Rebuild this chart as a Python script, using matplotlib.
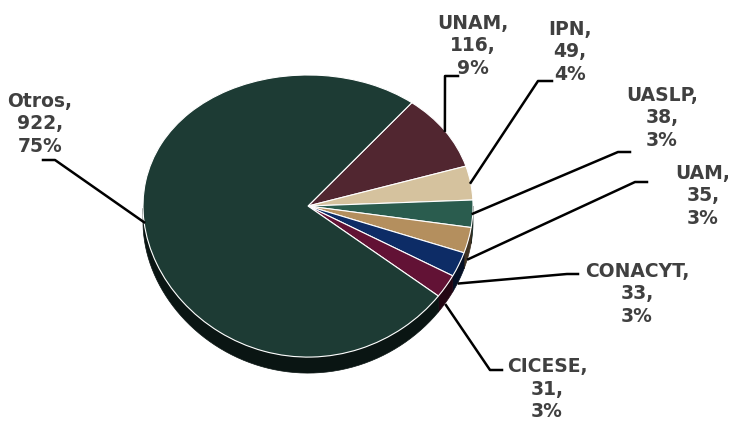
import numpy as np
import matplotlib.pyplot as plt
from matplotlib.patches import Polygon
from matplotlib.lines import Line2D
from matplotlib.transforms import IdentityTransform
import matplotlib.colors as mcolors

# datos
instituciones = ['UNAM', 'IPN', 'UASLP', 'UAM', 'CONACYT', 'CICESE', 'Otros']
cantidades = [116, 49, 38, 35, 33, 31, 922]
colores = ['#512630', '#D5C29E', '#2A5C4E', '#B48F5E', '#0D2C66', '#621235', '#1D3B34']

W, H = 733, 421
fig = plt.figure(figsize=(W / 100, H / 100), dpi=100)

# perspectiva: la parte de atras del pastel se ve mas corta
a = 0.0709
def fwd(y):
    return y / (1 + a * y)
def inv(u):
    return u / (1 - a * u)

ax = fig.add_axes([110 / W, 14 / H, 396 / W, 368 / H])
ax.set_yscale('function', functions=(fwd, inv))
wedges, _ = ax.pie(cantidades, colors=colores, startangle=51, counterclock=False,
                   wedgeprops=dict(edgecolor='white', linewidth=0.8))
ax.set_aspect('auto')
ax.set_xlim(-1.2, 1.2)
ax.set_ylim(-1.3, 1.3)
ax.axis('off')

# grosor del pastel (lado)
prof = 16
for w, c in zip(wedges, colores):
    th = np.radians(np.linspace(w.theta1, w.theta2, 120))
    th = th[np.sin(th) <= 0.001]
    if len(th) < 2:
        continue
    arriba = ax.transData.transform(np.column_stack([np.cos(th), np.sin(th)]))
    abajo = arriba - [0, prof]
    rgb = np.array(mcolors.to_rgb(c)) * 0.36
    fig.add_artist(Polygon(np.vstack([arriba, abajo[::-1]]), closed=True,
                           transform=IdentityTransform(), facecolor=rgb,
                           edgecolor=rgb, linewidth=0.5, zorder=-1))

# etiquetas (posiciones en pixeles desde arriba)
pos_texto = [(473, 46), (570, 52), (662, 118), (703, 196), (637, 294), (547, 389), (40, 124)]
pos_codo = [(458, 445, 76), (552, 538, 81), (630, 618, 152), (647, 635, 182),
            (578, 567, 274), (502, 490, 370), (43, 55, 160)]

total = sum(cantidades)
for w, nom, cant, (tx, ty), (x0, x1, yc) in zip(wedges, instituciones, cantidades, pos_texto, pos_codo):
    pct = round(cant / total * 100)
    fig.text(tx / W, 1 - ty / H, '%s,\n%d,\n%d%%' % (nom, cant, pct), ha='center', va='center',
             fontsize=13.5, fontweight='bold', color='#404040', linespacing=1.25)
    mid = np.radians((w.theta1 + w.theta2) / 2)
    px, py = ax.transData.transform((np.cos(mid), np.sin(mid)))
    if np.sin(mid) < -0.2:
        py -= prof + 3
    fig.add_artist(Line2D([x0, x1, px], [H - yc, H - yc, py], transform=IdentityTransform(),
                          color='black', linewidth=1.8))

fig.savefig('out.png', dpi=100)
